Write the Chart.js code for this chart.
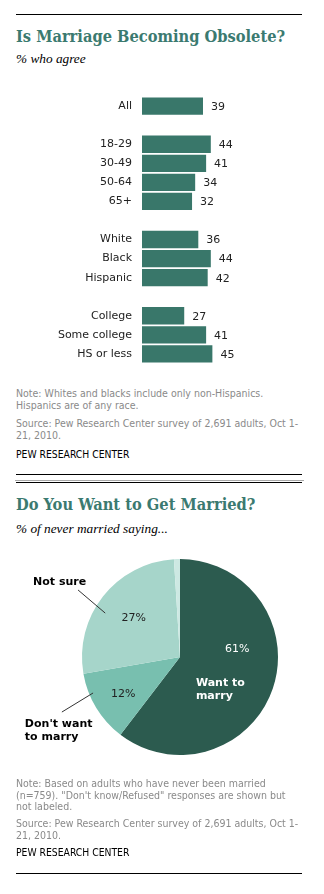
<!DOCTYPE html>
<html>
<head>
<meta charset="utf-8">
<script src="https://cdn.jsdelivr.net/npm/chart.js@4/dist/chart.umd.min.js"></script>
<style>
  html, body { margin: 0; padding: 0; background: #fff; }
  body { width: 324px; height: 894px; position: relative; overflow: hidden; }
  .abs { position: absolute; white-space: nowrap; }
  .rule { position: absolute; left: 16px; width: 286px; height: 1px; background: #000; }
  .title { font-family: "DejaVu Serif Condensed", "DejaVu Serif", serif; font-weight: bold; font-size: 16.3px; line-height: 20px; color: #3b7a70; left: 16px; }
  .sub { font-family: "Liberation Serif", serif; font-style: italic; font-size: 13.3px; line-height: 16px; color: #000; left: 16px; }
  .note { font-family: "DejaVu Sans Condensed", "DejaVu Sans", sans-serif; font-size: 10.5px; line-height: 11.5px; color: #8a8a8a; left: 16px; }
  .pew { font-family: "DejaVu Sans Condensed", "DejaVu Sans", sans-serif; font-size: 10.3px; line-height: 12px; color: #000; left: 16px; }
  canvas { position: absolute; }
</style>
</head>
<body>
<div class="rule" style="top:14px"></div>
<div class="abs title" style="top:27px">Is Marriage Becoming Obsolete?</div>
<div class="abs sub" style="top:51px">% who agree</div>

<div id="barWrap" style="position:absolute;left:0;top:80px;width:324px;height:300px;"><canvas id="bar"></canvas></div>

<div class="abs note" style="top:388px">Note: Whites and blacks include only non-Hispanics.<br>Hispanics are of any race.</div>
<div class="abs note" style="top:418px">Source: Pew Research Center survey of 2,691 adults, Oct 1-<br>21, 2010.</div>
<div class="abs pew" style="top:448px">PEW RESEARCH CENTER</div>
<div class="rule" style="top:474px"></div>
<div class="rule" style="top:480px;background:#aaa;left:15px;width:289px"></div>
<div class="rule" style="top:482px"></div>

<div class="abs title" style="top:495px">Do You Want to Get Married?</div>
<div class="abs sub" style="top:521px">% of never married saying...</div>

<div id="pieWrap" style="position:absolute;left:0;top:540px;width:324px;height:240px;"><canvas id="pie"></canvas></div>

<div class="abs note" style="top:778px">Note: Based on adults who have never been married<br>(n=759). "Don't know/Refused" responses are shown but<br>not labeled.</div>
<div class="abs note" style="top:818px">Source: Pew Research Center survey of 2,691 adults, Oct 1-<br>21, 2010.</div>
<div class="abs pew" style="top:846px">PEW RESEARCH CENTER</div>
<div class="rule" style="top:873px"></div>

<script>
// ---- Data: Is marriage becoming obsolete? (% who agree) ----
const barCategories = ['All', '', '18-29', '30-49', '50-64', '65+', '', 'White', 'Black', 'Hispanic', '', 'College', 'Some college', 'HS or less'];
const barValues = [39, null, 44, 41, 34, 32, null, 36, 44, 42, null, 27, 41, 45];

// ---- Data: Do you want to get married? (% of never married) ----
const pieLabels = ['Want to marry', "Don't want to marry", 'Not sure', "Don't know/Refused"];
const pieValues = [61, 12, 27, 1];
const pieShowLabel = [true, true, true, false];

// ---- Styles ----
const barColor = '#39776a';
const pieColors = ['#2c5b4f', '#78bfaf', '#a6d5ca', '#cde9e3'];
const sansFont = '"DejaVu Sans", sans-serif';

Chart.defaults.animation = false;
Chart.defaults.font.family = sansFont;

const barValueLabels = {
  id: 'barValueLabels',
  afterDatasetsDraw(chart) {
    const ctx = chart.ctx;
    const meta = chart.getDatasetMeta(0);
    ctx.save();
    ctx.font = '11px ' + sansFont;
    ctx.fillStyle = '#222';
    ctx.textAlign = 'left';
    ctx.textBaseline = 'middle';
    meta.data.forEach((bar, i) => {
      const v = chart.data.datasets[0].data[i];
      if (v === null || v === undefined) return;
      ctx.fillText(String(v), bar.x + 8, bar.y + 1);
    });
    ctx.restore();
  }
};

new Chart(document.getElementById('bar'), {
  type: 'bar',
  data: {
    labels: barCategories,
    datasets: [{ data: barValues, backgroundColor: barColor, borderWidth: 0, barPercentage: 0.91, categoryPercentage: 1 }]
  },
  options: {
    indexAxis: 'y',
    responsive: true,
    maintainAspectRatio: false,
    events: [],
    layout: { padding: { top: 4, bottom: 4.6, left: 0, right: 25.6 } },
    plugins: { legend: { display: false }, tooltip: { enabled: false } },
    scales: {
      x: { display: false, min: 0, max: 100 },
      y: {
        grid: { display: false, drawTicks: false },
        border: { display: false },
        ticks: { padding: 10, color: '#222', font: { size: 11 }, autoSkip: false },
        afterFit(scale) { scale.width = 142; }
      }
    }
  },
  plugins: [barValueLabels]
});

// Label placement styles for pie (angle offsets in degrees from slice mid, radius fractions)
const pieLabelStyle = [
  { pct: { dA: -26.7, r: 0.59, color: '#fff' }, name: { dA: 39.7, r: 0.31, lines: ['Want to', 'marry'], color: '#fff', align: 'left', dx: 0, dy: 0 } },
  { pct: { dA: -1.8, r: 0.69, color: '#222' }, leader: { a1: 8.7, r1: 0.96, a2: 6.2, r2: 1.33 }, name: { lines: ["Don't want", 'to marry'], color: '#000', align: 'left', dx: -37, dy: 12 } },
  { pct: { dA: 2, r: 0.62, color: '#222' }, leader: { a1: -7.9, r1: 0.885, a2: -5, r2: 1.245 }, name: { lines: ['Not sure'], color: '#000', align: 'left', dx: -45, dy: -8 } },
  null
];

const pieLabelsPlugin = {
  id: 'pieLabels',
  afterDatasetsDraw(chart) {
    const ctx = chart.ctx;
    const meta = chart.getDatasetMeta(0);
    ctx.save();
    meta.data.forEach((arc, i) => {
      const st = pieLabelStyle[i];
      if (!st || !pieShowLabel[i]) return;
      const mid = (arc.startAngle + arc.endAngle) / 2;
      const R = arc.outerRadius;
      const pt = (dDeg, f) => {
        const a = mid + dDeg * Math.PI / 180;
        return { x: arc.x + Math.cos(a) * R * f, y: arc.y + Math.sin(a) * R * f };
      };
      const p = pt(st.pct.dA, st.pct.r);
      ctx.font = '11px ' + sansFont;
      ctx.fillStyle = st.pct.color;
      ctx.textAlign = 'center';
      ctx.textBaseline = 'middle';
      ctx.fillText(pieValues[i] + '%', p.x, p.y);
      ctx.font = 'bold 11px ' + sansFont;
      ctx.fillStyle = st.name.color;
      ctx.textAlign = st.name.align;
      let anchor;
      if (st.leader) {
        const a = pt(st.leader.a1, st.leader.r1);
        const b = pt(st.leader.a2, st.leader.r2);
        ctx.strokeStyle = '#333';
        ctx.lineWidth = 1;
        ctx.beginPath();
        ctx.moveTo(a.x, a.y);
        ctx.lineTo(b.x, b.y);
        ctx.stroke();
        anchor = b;
      } else {
        anchor = pt(st.name.dA, st.name.r);
      }
      st.name.lines.forEach((ln, k) => {
        ctx.fillText(ln, anchor.x + st.name.dx, anchor.y + st.name.dy + k * 13);
      });
    });
    ctx.restore();
  }
};

new Chart(document.getElementById('pie'), {
  type: 'pie',
  data: {
    labels: pieLabels,
    datasets: [{ data: pieValues, backgroundColor: pieColors, borderWidth: 0, hoverOffset: 0, offset: 0 }]
  },
  options: {
    responsive: true,
    maintainAspectRatio: false,
    events: [],
    layout: { padding: { left: 82, right: 46, top: 19, bottom: 25 } },
    plugins: { legend: { display: false }, tooltip: { enabled: false } }
  },
  plugins: [pieLabelsPlugin]
});
</script>
</body>
</html>
